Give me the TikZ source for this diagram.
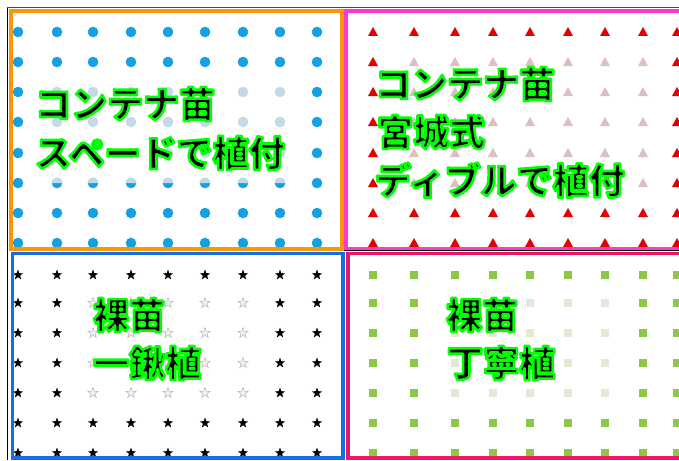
\documentclass[tikz,border=0pt]{standalone}
\usepackage{fontspec}
\newfontfamily\jp{Noto Sans CJK JP}
\definecolor{orangeB}{RGB}{250,150,10}
\definecolor{magentaB}{RGB}{255,55,205}
\definecolor{blueB}{RGB}{20,110,230}
\definecolor{crimsonB}{RGB}{240,20,100}
\definecolor{dotblue}{RGB}{20,160,225}
\definecolor{fadeblue}{RGB}{195,218,228}
\definecolor{trired}{RGB}{228,0,0}
\definecolor{fadered}{RGB}{218,192,192}
\definecolor{sqgreen}{RGB}{140,200,70}
\definecolor{fadegreen}{RGB}{226,233,214}
\newcommand{\outlinetext}[1]{\special{pdf:literal direct 0 1 0 RG 2.6 w 1 j 2 Tr}#1\special{pdf:literal direct 0 Tr}}
\tikzset{
  border/.style={line width=3.6pt},
  label/.style={anchor=west, inner sep=0pt, text=black, font=\jp\bfseries\fontsize{36}{40}\selectfont},
}
\begin{document}
\begin{tikzpicture}[x=1pt,y=-1pt]
\useasboundingbox[fill=white] (0,0) rectangle (679,460);
% ---- top-left: dots
\foreach \x [count=\ci] in {18,57,93,131,168,205,243,280,317}{
  \foreach \y [count=\cj] in {32,62,92,122,153,183,213,243}{
    \pgfmathtruncatemacro\inner{(\ci>1)&&(\ci<9)}
    \ifnum\inner=1
      \ifnum\cj>2 \ifnum\cj<6
        \fill[fadeblue] (\x,\y) circle[radius=5.3pt];
      \else
        \ifnum\cj=6
          \fill[dotblue] (\x,\y) circle[radius=5.3pt];
          \fill[fadeblue] (\x,\y) ++(5.3pt,0pt) arc[start angle=0,end angle=180,radius=5.3pt] -- cycle;
        \else
          \fill[dotblue] (\x,\y) circle[radius=5.3pt];
        \fi
      \fi
      \else
        \fill[dotblue] (\x,\y) circle[radius=5.3pt];
      \fi
    \else
      \fill[dotblue] (\x,\y) circle[radius=5.3pt];
    \fi
  }
}
% ---- top-right: triangles
\foreach \x [count=\ci] in {373,414,455,493,530,568,605,643,677}{
  \foreach \y [count=\cj] in {32,62,92,122,153,183,213,243}{
    \pgfmathtruncatemacro\fd{(\ci>1)&&(\ci<9)&&(\cj>1)&&(\cj<7)}
    \ifnum\fd=1 \def\tc{fadered}\else\def\tc{trired}\fi
    \fill[\tc] (\x,\y) ++(-5pt,-4pt) -- ++(10pt,0pt) -- ++(-5pt,9pt) -- cycle;
  }
}
% ---- bottom-left: stars
\foreach \x [count=\ci] in {18,57,93,131,168,205,243,280,317}{
  \foreach \y [count=\cj] in {275,303,333,363,393,423,453}{
    \pgfmathtruncatemacro\fd{(\ci>2)&&(\ci<8)&&(\cj>1)&&(\cj<6)}
    \ifnum\fd=1
      \filldraw[draw=gray!55, fill=gray!12, line width=0.5pt] (\x,\y) +(90:5.5pt) -- +(126:2.2pt) -- +(162:5.5pt) -- +(198:2.2pt) -- +(234:5.5pt) -- +(270:2.2pt) -- +(306:5.5pt) -- +(342:2.2pt) -- +(18:5.5pt) -- +(54:2.2pt) -- cycle;
    \else
      \fill[black] (\x,\y) +(90:5.5pt) -- +(126:2.2pt) -- +(162:5.5pt) -- +(198:2.2pt) -- +(234:5.5pt) -- +(270:2.2pt) -- +(306:5.5pt) -- +(342:2.2pt) -- +(18:5.5pt) -- +(54:2.2pt) -- cycle;
    \fi
  }
}
% ---- bottom-right: squares
\foreach \x [count=\ci] in {373,414,455,493,530,568,605,643,677}{
  \foreach \y [count=\cj] in {275,303,333,363,393,423,453}{
    \pgfmathtruncatemacro\fd{(\ci>2)&&(\ci<8)&&(\cj>1)&&(\cj<6)}
    \ifnum\fd=1 \def\sc{fadegreen}\else\def\sc{sqgreen}\fi
    \fill[\sc] (\x,\y) +(-4.2pt,-4.2pt) rectangle +(4.2pt,4.2pt);
  }
}
% ---- thin dark frame lines
\draw[black, line width=1.2pt] (7.5,8) -- (7.5,460);
\draw[gray!60!black, line width=1pt] (7,8) -- (679,8);
\draw[black, line width=1pt] (340,250.5) -- (679,250.5);
% ---- panel borders
\draw[border, orangeB] (10.8,10.8) rectangle (342,248.8);
\draw[border, magentaB] (346,10.8) rectangle (684,248.3);
\draw[border, blueB] (12.5,253.5) rectangle (343,457.8);
\draw[border, crimsonB] (348,253.5) rectangle (684,457.8);
% ---- labels
\node[label] (tl1) at (35,104) {\outlinetext{コンテナ苗}};
\node[label] (tl2) at (35,153) {\outlinetext{スペードで植付}};
\node[label] (tr1) at (375,84) {\outlinetext{コンテナ苗}};
\node[label] (tr2) at (377,132) {\outlinetext{宮城式}};
\node[label] (tr3) at (375,180) {\outlinetext{ディブルで植付}};
\node[label] (bl1) at (93,315) {\outlinetext{裸苗}};
\node[label] (bl2) at (93,363) {\outlinetext{一鍬植}};
\node[label] (br1) at (446,315) {\outlinetext{裸苗}};
\node[label] (br2) at (447,363) {\outlinetext{丁寧植}};
\end{tikzpicture}
\end{document}
